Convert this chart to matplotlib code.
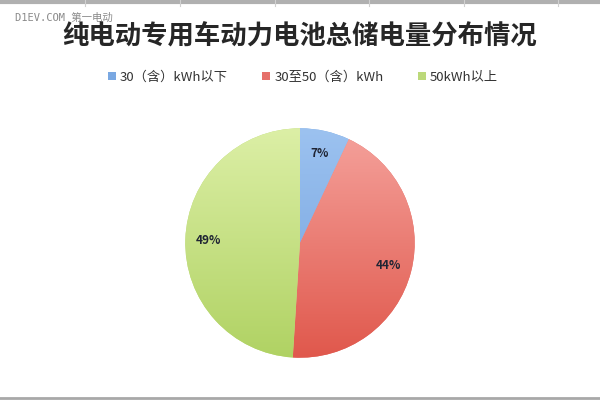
import numpy as np
import matplotlib
matplotlib.use("Agg")
import matplotlib.pyplot as plt
from matplotlib.patches import Patch

plt.rcParams['font.family'] = ['Noto Sans CJK SC', 'DejaVu Sans']

# data
categories = ['30（含）kWh以下', '30至50（含）kWh', '50kWh以上']
shares = [7, 44, 49]
top_colors = ['#9cc2f0', '#f5a29c', '#dcefa6']
bottom_colors = ['#6f9fdc', '#e0584c', '#b0d263']
legend_colors = ['#7aa8e2', '#e6706a', '#bcd97a']

fig = plt.figure(figsize=(6, 4), dpi=100)
fig.patch.set_facecolor('white')

# spreadsheet borders top and bottom
fig.add_artist(plt.Line2D([0, 1], [0.995, 0.995], color='#b0b0b0', lw=3))
for x in [85, 180, 275, 369, 464, 558]:
    fig.add_artist(plt.Line2D([x / 600, x / 600], [0.985, 1.0], color='#d0d0d0', lw=0.8))
fig.add_artist(plt.Line2D([0, 1], [0.006, 0.006], color='#a8a8a8', lw=2))

# watermark
fig.text(15 / 600, 1 - 18 / 400, 'D1EV.COM 第一电动', fontsize=7.5, color='#8a8a8a',
         va='center', ha='left', family=['DejaVu Sans Mono', 'Noto Sans CJK SC'])

fig.text(0.5, 1 - 37 / 400, '纯电动专用车动力电池总储电量分布情况', fontsize=19,
         ha='center', va='center', color='#262626', fontweight='bold')

r_px = 117
ax = fig.add_axes([(300 - r_px) / 600, (400 - 243 - r_px) / 400, 2 * r_px / 600, 2 * r_px / 400])
ax.axis('off')

wedges, texts, autotexts = ax.pie(shares, startangle=90, counterclock=False,
                                  colors=legend_colors, radius=1,
                                  autopct='%d%%', pctdistance=0.8,
                                  textprops={'fontsize': 8.5, 'color': '#1f2433',
                                             'fontweight': 'bold'})
ax.set_xlim(-1.02, 1.02)
ax.set_ylim(-1.02, 1.02)
ax.set_aspect('auto')

# vertical gradient fill per wedge
yy = np.linspace(1, -1, 200).reshape(-1, 1)
t = (1 - yy) / 2
for w, c1, c2 in zip(wedges, top_colors, bottom_colors):
    a = np.array(matplotlib.colors.to_rgb(c1))
    b = np.array(matplotlib.colors.to_rgb(c2))
    img = a + (b - a) * t[..., None]
    img = np.repeat(img, 2, axis=1)
    im = ax.imshow(img, extent=[-1, 1, -1, 1], aspect='auto', zorder=1.5)
    im.set_clip_path(w)
for tx in autotexts:
    tx.set_zorder(3)

handles = [Patch(facecolor=c, edgecolor='none') for c in legend_colors]
fig.legend(handles, categories, loc='center', bbox_to_anchor=(0.505, 1 - 77 / 400),
           ncol=3, frameon=False, fontsize=9.5, handlelength=0.6, handleheight=0.6,
           columnspacing=2.6, handletextpad=0.3, labelcolor='#333333')

fig.savefig('out.png', dpi=100)
